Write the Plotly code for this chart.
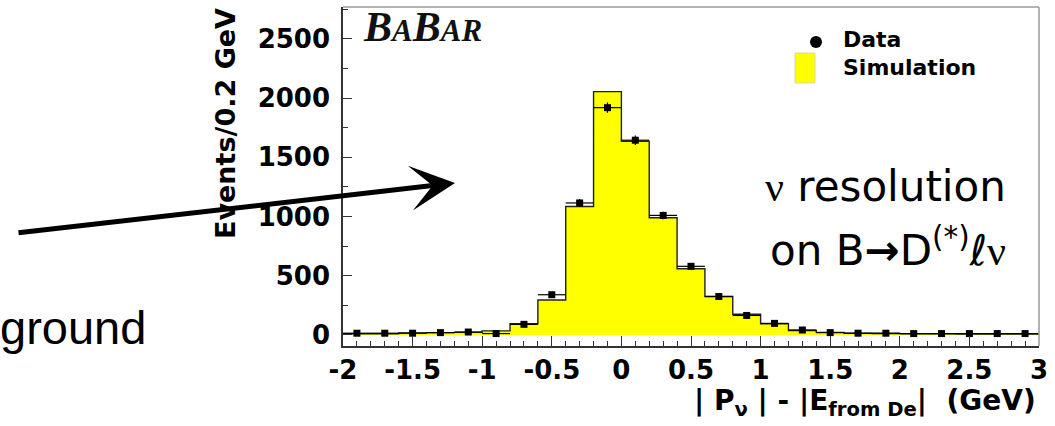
import numpy as np
import plotly.graph_objects as go

# ---------------- data ----------------
bin_low_edges = [-2.0, -1.8, -1.6, -1.4, -1.2, -1.0, -0.8, -0.6, -0.4, -0.2,
                 0.0, 0.2, 0.4, 0.6, 0.8, 1.0, 1.2, 1.4, 1.6, 1.8,
                 2.0, 2.2, 2.4, 2.6, 2.8]
bin_width = 0.2
simulation = [10, 10, 18, 20, 22, 35, 95, 295, 1085, 2055,
              1635, 990, 560, 325, 175, 95, 38, 22, 15, 12,
              10, 10, 8, 8, 8]
data_counts = [15, 15, 15, 20, 25, 12, 90, 340, 1115, 1920,
               1645, 1010, 580, 325, 165, 98, 42, 20, 15, 15,
               12, 12, 12, 12, 12]
x_tickvals = [-2, -1.5, -1, -0.5, 0, 0.5, 1, 1.5, 2, 2.5, 3]
x_ticktext = ["-2", "-1.5", "-1", "-0.5", "0", "0.5", "1", "1.5", "2", "2.5", "3"]
y_tickvals = [0, 500, 1000, 1500, 2000, 2500]
y_ticktext = ["0", "500", "1000", "1500", "2000", "2500"]

# ---------------- layout geometry ----------------
W, H = 1055, 426
L, R, T, B = 343, 1039, 7, 346


def X(px):
    return (px - L) / (R - L)


def Y(py):
    return (B - py) / (B - T)


edges = list(bin_low_edges) + [bin_low_edges[-1] + bin_width]
centers = [e + bin_width / 2 for e in bin_low_edges]

fig = go.Figure()

# simulation histogram (filled step)
fig.add_trace(go.Scatter(
    x=edges, y=list(simulation) + [simulation[-1]],
    mode="lines", line=dict(shape="hv", color="#222222", width=1.4),
    fill="tozeroy", fillcolor="#FFFF00", name="Simulation", showlegend=False,
))

# data points
fig.add_trace(go.Scatter(
    x=centers, y=data_counts, mode="markers",
    marker=dict(symbol="square", size=7, color="black"),
    error_x=dict(type="constant", value=bin_width / 2, width=0, thickness=1.2, color="black"),
    error_y=dict(type="data", array=list(np.sqrt(data_counts)), width=0, thickness=1.2, color="black"),
    name="Data", showlegend=False,
))

tickfont = dict(family="DejaVu Sans", size=26, color="black", weight="bold")

fig.update_xaxes(
    range=[-2, 3], tickvals=x_tickvals, ticktext=x_ticktext,
    ticks="inside", ticklen=10, tickwidth=1.3, tickcolor="#333",
    minor=dict(dtick=0.1, tick0=0, ticks="inside", ticklen=5, tickwidth=1.2, tickcolor="#333"),
    showline=True, linecolor="#333", linewidth=1.6, mirror=False,
    showgrid=False, zeroline=False, tickfont=tickfont, ticklabelstandoff=0,
)
fig.update_yaxes(
    range=[-93, 2770], tickvals=y_tickvals, ticktext=y_ticktext,
    ticks="inside", ticklen=9, tickwidth=1.3, tickcolor="#333",
    minor=dict(dtick=250, tick0=0, ticks="inside", ticklen=5, tickwidth=1.2, tickcolor="#333"),
    showline=True, linecolor="#333", linewidth=1.6, mirror=False,
    showgrid=False, zeroline=False, tickfont=tickfont, ticklabelstandoff=6,
)

shapes = [
    # frame top/right
    dict(type="line", xref="paper", yref="paper", x0=0, x1=1, y0=1, y1=1,
         line=dict(color="#999", width=1.5)),
    dict(type="line", xref="paper", yref="paper", x0=1, x1=1, y0=0, y1=1,
         line=dict(color="#999", width=1.5)),
    # legend symbols
    dict(type="circle", xref="paper", yref="paper", x0=X(810), x1=X(822), y0=Y(48), y1=Y(36),
         fillcolor="black", line=dict(color="black", width=0)),
    dict(type="rect", xref="paper", yref="paper", x0=X(795), x1=X(815), y0=Y(83), y1=Y(53),
         fillcolor="#FFFF00", line=dict(color="#d8d8b0", width=1)),
]

bold = dict(family="DejaVu Sans", color="black", weight="bold")
annotations = [
    dict(text="Data", x=X(842), y=Y(39.5), xanchor="left", yanchor="middle", borderpad=0,
         font=dict(size=22, **bold)),
    dict(text="Simulation", x=X(842), y=Y(67), xanchor="left", yanchor="middle", borderpad=0,
         font=dict(size=22, **bold)),
    dict(text="Events/0.2 GeV", textangle=-90, x=X(225), y=Y(124), xanchor="center", yanchor="middle",
         font=dict(size=27, **bold)),
    dict(text="| P<sub>\u03bd</sub> | - |E<sub>from De</sub>|\u00a0\u00a0(GeV)", x=X(1038), y=Y(402),
         xanchor="right", yanchor="middle", font=dict(size=28, **bold)),
    dict(text="<span style=\"font-family:'Liberation Serif'\">\u03bd</span> resolution",
         x=X(1008), y=Y(187), xanchor="right", yanchor="middle",
         font=dict(family="DejaVu Sans", size=42, color="black")),
    dict(text="on B<b>\u2192</b>D<sup>(*)</sup>\u2113<span style=\"font-family:'Liberation Serif'\">\u03bd</span>",
         x=X(1008), y=Y(248), xanchor="right", yanchor="middle",
         font=dict(family="DejaVu Sans", size=42, color="black")),
    dict(text="B<span style=\"font-size:31px\">A</span>B<span style=\"font-size:31px\">AR</span>",
         x=X(361), y=Y(27), xanchor="left", yanchor="middle",
         font=dict(family="Liberation Serif", size=42, color="#111", weight="bold", style="italic")),
    dict(text="ground", x=X(148), y=Y(327), xanchor="right", yanchor="middle",
         font=dict(family="Liberation Sans", size=47, color="black")),
    # arrow
    dict(text="", x=X(455), y=Y(183), ax=17 - 455, ay=233 - 183, showarrow=True,
         arrowhead=3, arrowsize=1.5, arrowwidth=5, arrowcolor="black", xref="paper", yref="paper"),
]
for a in annotations:
    a.setdefault("xref", "paper")
    a.setdefault("yref", "paper")
    a.setdefault("showarrow", False)

fig.update_layout(
    width=W, height=H,
    margin=dict(l=L, r=W - R, t=T, b=H - B),
    plot_bgcolor="white", paper_bgcolor="white",
    shapes=shapes, annotations=annotations, showlegend=False,
)

fig.write_html("out.html")
